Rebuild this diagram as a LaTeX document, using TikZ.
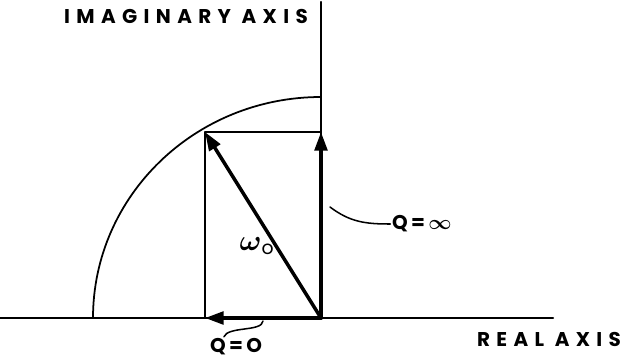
\documentclass[tikz,border=0pt]{standalone}
\usepackage{amsmath}
\usepackage{fontspec}
\setmainfont{Poppins}
\newfontfamily\sketchfont[LetterSpace=32]{Poppins}
\usetikzlibrary{arrows.meta, positioning}
\tikzset{
  % pixel-like units, y running downwards as in the sketch
  every picture/.append style = {x=0.03cm, y=-0.03cm, line cap=round},
  axisline/.style   = {line width=1.8pt, black},
  vecline/.style    = {line width=3pt, black, -{Triangle[length=5.6mm, width=3.8mm]}},
  arcline/.style    = {line width=1.5pt, black},
  leader/.style     = {line width=1.3pt, black},
  lbl/.style        = {font=\sketchfont\bfseries\fontsize{17}{18}\selectfont, inner sep=1pt},
  qlbl/.style       = {font=\bfseries\fontsize{17}{18}\selectfont, inner sep=0pt},
}
\begin{document}
\begin{tikzpicture}
  \useasboundingbox (0,0) rectangle (629,361);
  \coordinate (O) at (321,318);
  \coordinate (A) at (205,132);
  % axes
  \draw[axisline] (0,318) -- (553,318);
  \draw[axisline] (321,2) -- (O);
  % circle of constant frequency
  \draw[arcline] (O) ++(-228,0) arc[start angle=180, end angle=270, x radius=228, y radius=221];
  % rectangle of the components
  \draw[arcline] (A) -- (321,132);
  \draw[arcline] (A) -- (205,318);
  % vectors
  \draw[vecline] (O) -- (A);
  \draw[vecline] (O) -- (321,132);
  \draw[vecline] (O) -- (205,318);
  % labels
  \node[lbl] (imag) at (186,16) {IMAGINARY AXIS};
  \node[lbl] (real) at (549,339) {REAL AXIS};
  \node[font=\fontsize{23}{24}\selectfont] (omega) at (257,246) {$\boldsymbol{\omega}_{\mathrm{o}}$};
  \node[qlbl, anchor=west] (qinf) at (392,224) {Q\,=\,$\boldsymbol{\infty}$};
  \node[qlbl] (qzero) at (236,347) {Q\,=\,O};
  % leaders
  \draw[leader] (330,207) .. controls (350,222) and (365,224) .. ([xshift=-0.05cm]qinf.west);
  \draw[leader] (263,321) .. controls (262,332) and (228,326) .. ([xshift=0.42cm, yshift=0.05cm]qzero.north west);
\end{tikzpicture}
\end{document}
